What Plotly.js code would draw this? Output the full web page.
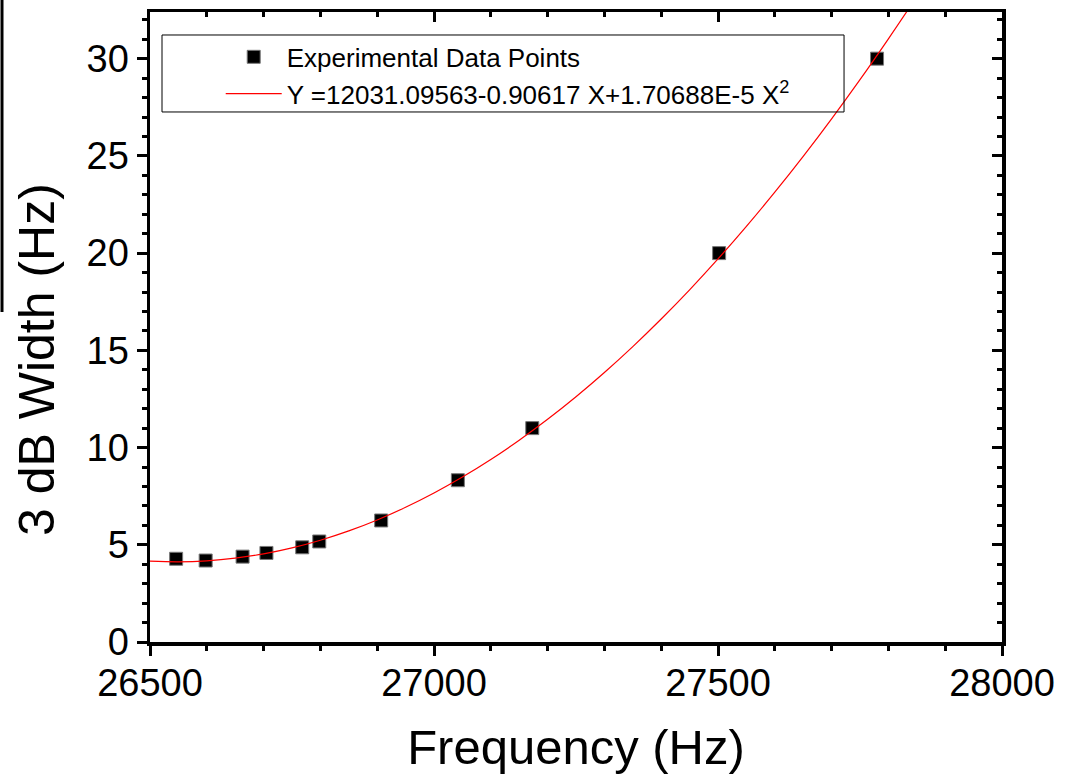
<!DOCTYPE html>
<html>
<head>
<meta charset="utf-8">
<script src="https://cdn.plot.ly/plotly-3.0.1.min.js"></script>
<style>html,body{margin:0;padding:0;background:#fff;}#chart{width:1074px;height:778px;}</style>
</head>
<body>
<div id="chart"></div>
<script>
const freqHz = [26546, 26598, 26663, 26705, 26768, 26798, 26907, 27042, 27173, 27502, 27780];
const widthHz = [4.28, 4.19, 4.39, 4.58, 4.87, 5.17, 6.25, 8.32, 11.0, 20.0, 30.0];

// Fitted quadratic curve, sampled (Y = 12031.09563 - 0.90617 X + 1.70688E-5 X^2)
const fitX = [26500, 26550, 26600, 26650, 26700, 26750, 26800, 26850, 26900, 26950,
              27000, 27050, 27100, 27150, 27200, 27250, 27300, 27350, 27400, 27450,
              27500, 27550, 27600, 27650, 27700, 27750, 27800, 27850];
const fitY = [4.156, 4.122, 4.174, 4.312, 4.534, 4.842, 5.235, 5.714, 6.278, 6.927,
              7.661, 8.481, 9.387, 10.377, 11.453, 12.614, 13.861, 15.193, 16.611, 18.113,
              19.701, 21.375, 23.133, 24.977, 26.907, 28.921, 31.021, 33.190];

const seriesNames = ["Experimental Data Points", "Y =12031.09563-0.90617 X+1.70688E-5 X<sup>2</sup>"];
const xTitle = "Frequency (Hz)";
const yTitle = "3 dB Width (Hz)";
const xRange = [26500, 28000];
const yRange = [0, 32.4];

const FONT = "Liberation Sans, Arial, sans-serif";

const traces = [
  {
    x: freqHz, y: widthHz, type: "scatter", mode: "markers", name: seriesNames[0],
    marker: {symbol: "square", size: 13, color: "#000", line: {color: "#777", width: 1}}
  },
  {
    x: fitX, y: fitY, type: "scatter", mode: "lines", name: seriesNames[1],
    line: {color: "#ff0000", width: 1.2, shape: "spline"}
  },
  {
    x: [xRange[0]], y: [yRange[0]], xaxis: "x2", yaxis: "y2", type: "scatter", mode: "markers",
    marker: {opacity: 0, size: 1}, showlegend: false, hoverinfo: "skip"
  }
];

const majorTick = {ticklen: 10, tickwidth: 3, tickcolor: "#000"};

const layout = {
  width: 1074, height: 778,
  margin: {l: 150, r: 72, t: 12, b: 136},
  paper_bgcolor: "#fff", plot_bgcolor: "#fff",
  font: {family: FONT, color: "#000"},
  showlegend: true,
  legend: {
    x: 0.083, y: 0.966, xanchor: "left", yanchor: "top",
    bgcolor: "rgba(0,0,0,0)", borderwidth: 0,
    font: {family: FONT, size: 26, color: "#000"},
    itemwidth: 56, tracegroupgap: 0
  },
  xaxis: Object.assign({
    range: xRange, dtick: 500, tick0: 26500, ticks: "outside", tickformat: "d",
    ticklabelstandoff: -5,
    showline: true, linewidth: 3.5, linecolor: "#000",
    showgrid: false, zeroline: false,
    tickfont: {family: FONT, size: 38, color: "#000"},
    minor: {dtick: 100, ticklen: 5, tickwidth: 3, tickcolor: "#000", ticks: "outside", showgrid: false},
    title: {text: xTitle, font: {family: FONT, size: 49, color: "#000"}, standoff: 27}
  }, majorTick),
  yaxis: Object.assign({
    range: yRange, dtick: 5, tick0: 0, ticks: "outside",
    showline: true, linewidth: 3.5, linecolor: "#000",
    showgrid: false, zeroline: false,
    tickfont: {family: FONT, size: 38, color: "#000"},
    minor: {dtick: 1, ticklen: 5, tickwidth: 3, tickcolor: "#000", ticks: "outside", showgrid: false}
  }, majorTick),
  xaxis2: Object.assign({
    overlaying: "x", side: "top", range: xRange, dtick: 500, tick0: 26500,
    ticks: "inside", showticklabels: false,
    showline: true, linewidth: 3.5, linecolor: "#000",
    showgrid: false, zeroline: false,
    minor: {dtick: 100, ticklen: 5, tickwidth: 3, tickcolor: "#000", ticks: "inside", showgrid: false}
  }, majorTick),
  yaxis2: Object.assign({
    overlaying: "y", side: "right", range: yRange, dtick: 5, tick0: 0,
    ticks: "inside", showticklabels: false,
    showline: true, linewidth: 3.5, linecolor: "#000",
    showgrid: false, zeroline: false,
    minor: {dtick: 1, ticklen: 5, tickwidth: 3, tickcolor: "#000", ticks: "inside", showgrid: false}
  }, majorTick),
  annotations: [
    {
      text: yTitle, textangle: -90, xref: "paper", yref: "paper",
      x: -0.1326, y: 0.4476, xanchor: "center", yanchor: "middle", showarrow: false,
      font: {family: FONT, size: 50, color: "#000"}
    }
  ],
  shapes: [
    {type: "rect", xref: "paper", yref: "paper", x0: 0.0141, x1: 0.8146, y0: 0.8413, y1: 0.9635,
     line: {color: "#000", width: 1}, fillcolor: "rgba(0,0,0,0)", layer: "above"},
    {type: "line", xref: "paper", yref: "paper", x0: -0.1737, x1: -0.1737, y0: 1.03, y1: 0.5238,
     line: {color: "#000", width: 3}}
  ]
};

Plotly.newPlot("chart", traces, layout, {displayModeBar: false, staticPlot: true});
</script>
</body>
</html>
